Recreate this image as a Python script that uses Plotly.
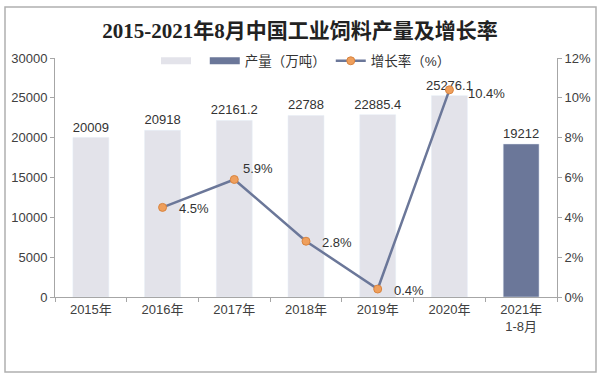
import plotly.graph_objects as go

categories = ["2015年", "2016年", "2017年", "2018年", "2019年", "2020年", "2021年<br>1-8月"]
output = [20009, 20918, 22161.2, 22788, 22885.4, 25276.1, 19212]
output_labels = ["20009", "20918", "22161.2", "22788", "22885.4", "25276.1", "19212"]
growth = [None, 4.5, 5.9, 2.8, 0.4, 10.4, None]
growth_labels = ["", "4.5%", "5.9%", "2.8%", "0.4%", "10.4%", ""]

LIGHT = "#e3e3ea"
DARK = "#6b7799"
ORANGE = "#ef9f5c"
FONT = "Liberation Sans, Arial, Noto Sans CJK SC"

fig = go.Figure()

# bars (light for full years, dark for 2021 Jan-Aug)
fig.add_trace(go.Bar(
    x=categories[:6], y=output[:6], marker_color=LIGHT, width=0.5,
    text=output_labels[:6], textposition="outside", cliponaxis=False, constraintext="none",
    textfont=dict(size=13, color="#333333"), showlegend=False,
))
fig.add_trace(go.Bar(
    x=categories[6:], y=output[6:], marker_color=DARK, width=0.5,
    text=output_labels[6:], textposition="outside", cliponaxis=False, constraintext="none",
    textfont=dict(size=13, color="#333333"), showlegend=False,
))

# legend swatches
fig.add_trace(go.Scatter(x=[None], y=[None], mode="lines", line=dict(color=LIGHT, width=7),
                         name=" ", showlegend=True))
fig.add_trace(go.Scatter(x=[None], y=[None], mode="lines", line=dict(color=DARK, width=7),
                         name="产量（万吨）", showlegend=True))

fig.add_trace(go.Scatter(
    x=categories, y=growth, yaxis="y2", mode="lines+markers",
    line=dict(color=DARK, width=2.5),
    marker=dict(color=ORANGE, size=8, line=dict(color="#d9843f", width=1)),
    name="增长率（%）", cliponaxis=False, connectgaps=False,
))

# growth-rate labels (offsets in pixels from each marker)
label_shift = {"5.9%": (7, 11), "10.4%": (17, -4)}
for cat, val, lab in zip(categories, growth, growth_labels):
    if val is None:
        continue
    dx, dy = label_shift.get(lab, (14, -1))
    fig.add_annotation(x=cat, y=val, xref="x", yref="y2", text=lab, showarrow=False,
                       xanchor="left", yanchor="middle", xshift=dx, yshift=dy,
                       font=dict(size=13, color="#333333"))

L, R, T, B = 55, 43, 58, 81
W, H = 600, 378
pw, ph = W - L - R, H - T - B

def px_x(p):
    return (p - L) / pw

def px_y(p):
    return (H - B - p) / ph

fig.add_shape(type="rect", xref="paper", yref="paper",
              x0=px_x(5), x1=px_x(596), y0=px_y(372), y1=px_y(7),
              line=dict(color="#b0b0b0", width=1.5), layer="below")

fig.update_layout(
    width=W, height=H,
    margin=dict(l=L, r=R, t=T, b=B, autoexpand=False),
    paper_bgcolor="white", plot_bgcolor="white",
    font=dict(family=FONT, size=13, color="#404040"),
    title=dict(text="<b>2015-2021年8月中国工业饲料产量及增长率</b>",
               x=0.5, xanchor="center", y=1 - 31 / H, yanchor="middle",
               font=dict(family="Liberation Serif, Noto Sans CJK SC", size=21, color="#222222")),
    barmode="overlay",
    legend=dict(orientation="h", x=0.5, xanchor="center", y=px_y(61), yanchor="middle",
                font=dict(size=13.5, color="#333333"), itemwidth=30,
                bgcolor="rgba(0,0,0,0)", traceorder="normal"),
    xaxis=dict(categoryorder="array", categoryarray=categories, automargin=False,
               showline=True, linecolor="#a6a6a6", linewidth=1,
               ticks="outside", tickson="boundaries", ticklen=4, tickcolor="#a6a6a6",
               tickfont=dict(size=13, color="#404040"), showgrid=False),
    yaxis=dict(range=[0, 30000], dtick=5000, tickformat="d", showline=True, linecolor="#a6a6a6",
               ticks="outside", ticklen=4, tickcolor="#a6a6a6", showgrid=False, automargin=False,
               zeroline=False, tickfont=dict(size=13, color="#404040")),
    yaxis2=dict(range=[0, 12], dtick=2, ticksuffix="%", overlaying="y", side="right",
                showline=True, linecolor="#a6a6a6", ticks="outside", ticklen=4, automargin=False,
                tickcolor="#a6a6a6", showgrid=False, zeroline=False,
                tickfont=dict(size=13, color="#404040")),
)

fig.write_html("out.html", config={"displayModeBar": False},
               post_script="document.body.style.margin='0';")
